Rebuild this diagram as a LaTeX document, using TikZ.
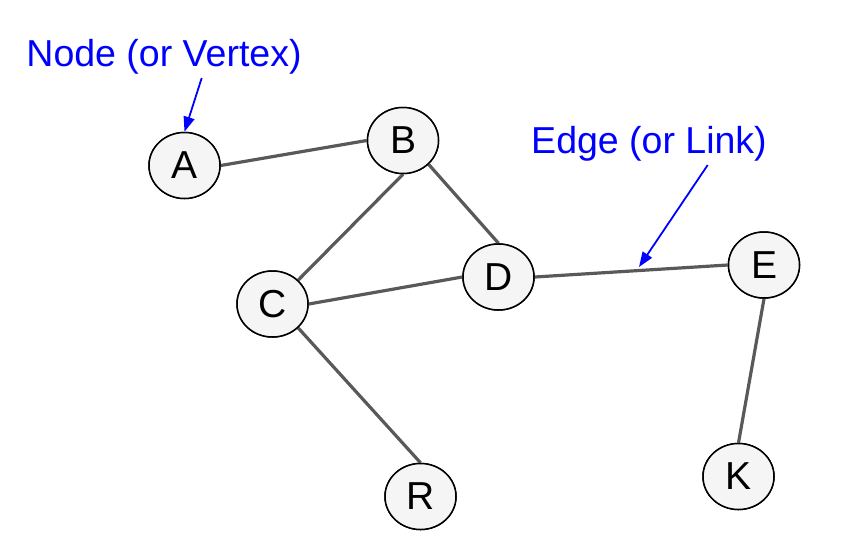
\documentclass[tikz,border=0pt]{standalone}
\usepackage{fontspec}
\setmainfont{Liberation Sans}
\usetikzlibrary{arrows.meta,shapes.geometric}
\definecolor{edgegray}{HTML}{595959}
\definecolor{nodefill}{HTML}{F5F5F5}
\definecolor{annblue}{HTML}{0000FF}
\begin{document}
\begin{tikzpicture}[x=1pt,y=-1pt,
  vertex/.style={ellipse, draw=black, line width=1.5pt, fill=nodefill,
    minimum width=71pt, minimum height=66pt, inner sep=0pt,
    font=\fontsize{39}{39}\selectfont},
  link/.style={draw=edgegray, line width=3.2pt},
  anntext/.style={text=annblue, font=\fontsize{37.5}{37.5}\selectfont, anchor=base, inner sep=0pt},
  annarrow/.style={draw=annblue, line width=1.8pt, -{Triangle[length=15pt,width=11pt]}}
]
\useasboundingbox (0,0) rectangle (842,555);
\node[vertex] (A) at (184.5,165.5) {A};
\node[vertex] (B) at (403,140.5) {B};
\node[vertex] (C) at (272.5,304) {C};
\node[vertex] (D) at (498.5,277) {D};
\node[vertex] (E) at (764,265) {E};
\node[vertex] (K) at (738.5,476.5) {K};
\node[vertex] (R) at (420.5,496.5) {R};
\draw[link] (A.east) -- (B.west);
\draw[link] (B.south) -- (C.north east);
\draw[link] (B.south east) -- (D.north);
\draw[link] (C.east) -- (D.west);
\draw[link] (D.east) -- (E.west);
\draw[link] (E.south) -- (K.north);
\draw[link] (C.south east) -- (R.north);
% redraw nodes over edges
\node[vertex] at (A) {A};
\node[vertex] at (B) {B};
\node[vertex] at (C) {C};
\node[vertex] at (D) {D};
\node[vertex] at (E) {E};
\node[vertex] at (K) {K};
\node[vertex] at (R) {R};
\node[anntext] (nodelabel) at (164,66.7) {Node (or Vertex)};
\node[anntext] (edgelabel) at (649,153.3) {Edge (or Link)};
\coordinate (nodetail) at (201.7,78);
\coordinate (edgetail) at (707.7,165);
\coordinate (edgetip) at (639,267);
\draw[annarrow] (nodetail) -- (A.north);
\draw[annarrow] (edgetail) -- (edgetip);
\end{tikzpicture}
\end{document}
